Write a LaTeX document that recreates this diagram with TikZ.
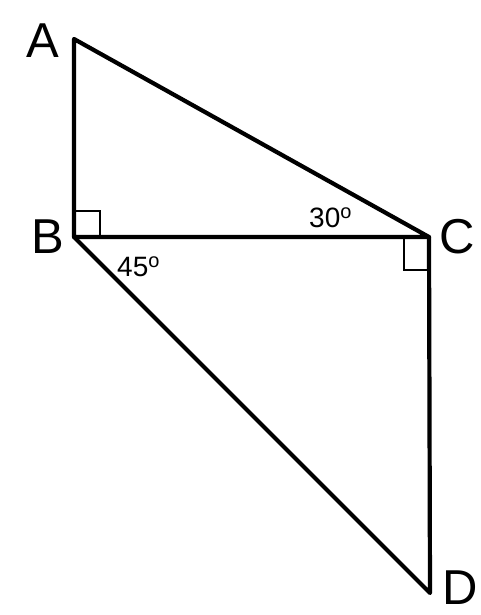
\documentclass[tikz,border=0pt]{standalone}
\usepackage{fontspec}
\setmainfont{Liberation Sans}
\begin{document}
\begin{tikzpicture}[x=1pt,y=-1pt,
  edge/.style={line width=4.2pt,line cap=round,line join=round},
  rightmark/.style={line width=1.6pt},
  vlabel/.style={font=\fontsize{49}{49}\selectfont,inner sep=0pt},
  alabel/.style={font=\fontsize{28}{28}\selectfont,inner sep=0pt}]
\useasboundingbox (0,0) rectangle (480,615);
\coordinate (A) at (74,39);
\coordinate (B) at (74,237);
\coordinate (C) at (429,237);
\coordinate (D) at (430,593);
\draw[rightmark] (74,211) -- (100,211) -- (100,237);
\draw[rightmark] (404,237) -- (404,270) -- (429,270);
\draw[edge] (A) -- (B) -- (C) -- cycle;
\draw[edge] (B) -- (D) -- (C);
\node[vlabel] (lA) at (43,41) {A};
\node[vlabel] (lB) at (48,237) {B};
\node[vlabel] (lC) at (457,237) {C};
\node[vlabel] (lD) at (460,588) {D};
\node[alabel,anchor=base west] (a30) at (309,227) {30\raisebox{9pt}{\fontsize{20}{20}\selectfont o}};
\node[alabel,anchor=base west] (a45) at (117,276) {45\raisebox{9pt}{\fontsize{20}{20}\selectfont o}};
\end{tikzpicture}
\end{document}
